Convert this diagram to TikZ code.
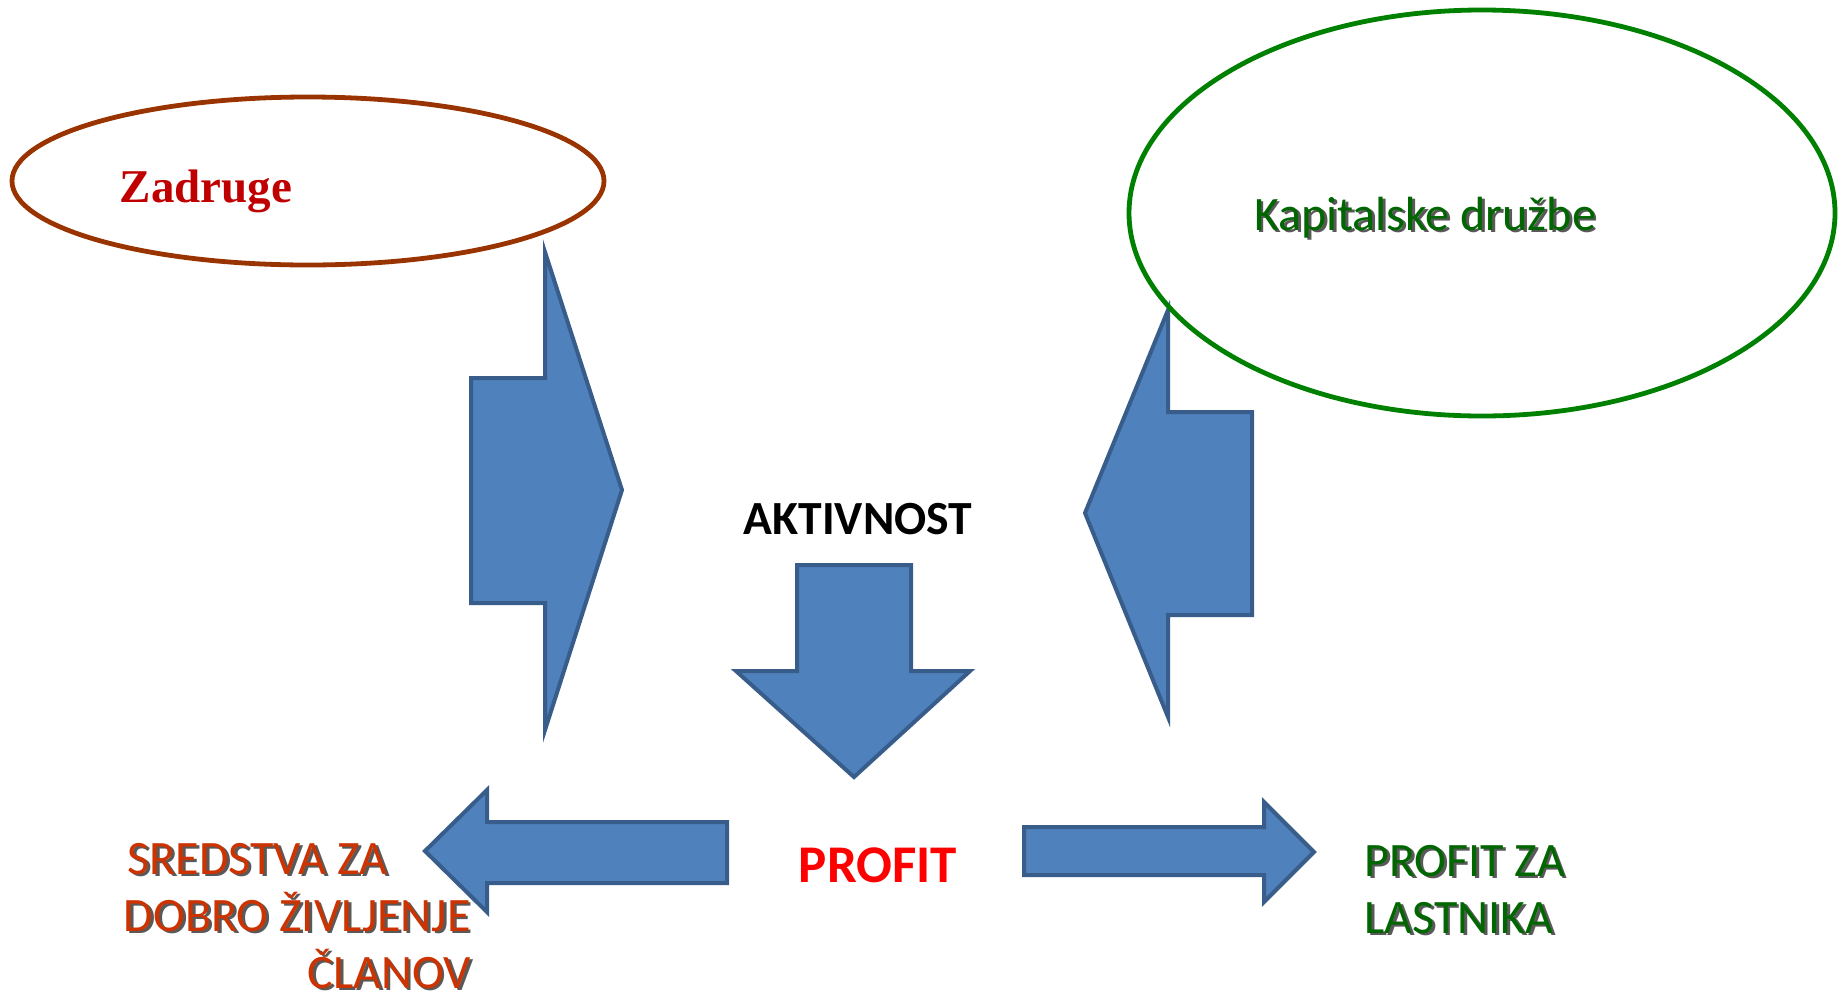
\documentclass[tikz,border=0pt]{standalone}
\usepackage{fontspec}
\setmainfont{Carlito}
\newfontfamily\headserif{Liberation Serif}
\usepackage{tikz}
\usetikzlibrary{shapes.geometric}
\definecolor{arrowfill}{RGB}{79,129,189}
\definecolor{arrowline}{RGB}{56,93,138}
\definecolor{coopline}{RGB}{153,51,0}
\definecolor{cooptext}{RGB}{192,0,0}
\definecolor{capline}{RGB}{0,128,0}
\definecolor{captext}{RGB}{0,102,0}
\definecolor{membertext}{RGB}{204,51,0}
\definecolor{profittext}{RGB}{255,0,0}
\newcommand{\shadowed}[1]{\makebox[0pt][l]{\hspace{1.4pt}\raisebox{-1.4pt}{\color{black!65}#1}}#1}

\begin{document}
\begin{tikzpicture}[
    x=0.5pt, y=-0.5pt,
    blockarrow/.style={draw=arrowline, fill=arrowfill, line width=2pt, line join=miter},
    bubble/.style={ellipse, draw, line width=2.4pt, inner sep=0pt},
    caption/.style={inner sep=0pt, font=\fontsize{24}{28.5}\selectfont}
]
    \useasboundingbox (0,0) rectangle (1839,996);

    % Block arrows
    \draw[blockarrow] (471,378) -- (545,378) -- (545,252) -- (622,490) -- (545,730) -- (545,603) -- (471,603) -- cycle;
    \draw[blockarrow] (1252,412) -- (1168,412) -- (1168,310) -- (1085,513) -- (1168,717) -- (1168,615) -- (1252,615) -- cycle;
    \draw[blockarrow] (797,565) -- (911,565) -- (911,671) -- (970,671) -- (854,777) -- (736,671) -- (797,671) -- cycle;
    \draw[blockarrow] (727,822) -- (487,822) -- (487,790) -- (425,851) -- (487,912) -- (487,883) -- (727,883) -- cycle;
    \draw[blockarrow] (1024,827) -- (1264,827) -- (1264,802) -- (1314,852) -- (1264,902) -- (1264,875) -- (1024,875) -- cycle;

    % Company types
    \node[bubble, draw=coopline, minimum width=296pt, minimum height=84pt] (coop) at (308,181) {};
    \node[bubble, draw=capline, minimum width=353pt, minimum height=203pt] (capital) at (1482,213) {};
    \node[inner sep=0pt, anchor=base, text=cooptext, font=\headserif\bfseries\fontsize{23.5}{28}\selectfont] (cooplabel) at (206,202) {Zadruge};
    \node[caption, anchor=base, text=captext] (caplabel) at (1425,230) {\shadowed{Kapitalske družbe}};

    % Flow labels
    \node[caption, anchor=base, font=\bfseries\fontsize{23.8}{28}\selectfont] (activity) at (858,534) {AKTIVNOST};
    \node[caption, anchor=base, text=profittext, font=\bfseries\fontsize{26.5}{30}\selectfont] (profit) at (878,882) {PROFIT};
    \node[caption, anchor=base east, align=right, text=membertext] (members) at (471,988)
        {\shadowed{SREDSTVA ZA}\hspace*{41.5pt}\\ \shadowed{DOBRO ŽIVLJENJE}\hspace*{4pt}\\ \shadowed{ČLANOV}};
    \node[caption, anchor=base west, align=left, text=captext] (owners) at (1364,933)
        {\shadowed{PROFIT ZA}\\ \shadowed{LASTNIKA}};
\end{tikzpicture}
\end{document}
